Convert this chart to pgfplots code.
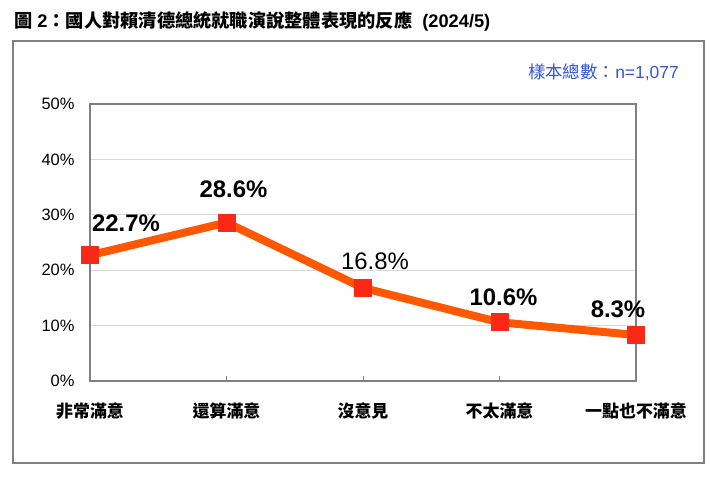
\documentclass[border=0pt]{standalone}
\usepackage{pgfplots}
\pgfplotsset{compat=1.18}
\usepackage{fontspec}
\setmainfont{Liberation Sans}
\newfontfamily\cjk{Noto Sans CJK TC}
\definecolor{lineor}{RGB}{255,88,0}
\definecolor{markr}{RGB}{250,40,20}
\definecolor{blu}{RGB}{51,85,221}
\definecolor{gridg}{RGB}{217,217,217}
\definecolor{axg}{RGB}{128,128,128}
\begin{document}
\begin{tikzpicture}[x=1bp,y=1bp]
\useasboundingbox (0,0) rectangle (728,477);
\draw[axg, line width=1.5bp] (13,14) rectangle (704,436);
\node[anchor=west, inner sep=0] at (14,456) {\fontsize{18.3}{21}\selectfont\bfseries{\cjk 圖} 2{\cjk ：國人對賴清德總統就職演說整體表現的反應}\ \ (2024/5)};
\node[anchor=east, inner sep=0, text=blu] at (679,405) {\fontsize{17.5}{20}\selectfont{\cjk 樣本總數：}n=1,077};
\begin{axis}[
  at={(90bp,96bp)}, anchor=south west,
  scale only axis, width=546bp, height=277bp,
  xmin=0, xmax=4, ymin=0, ymax=50,
  clip=false,
  axis line style={axg, line width=1.3bp},
  xtick={0,1,2,3,4},
  xticklabels={非常滿意,還算滿意,沒意見,不太滿意,一點也不滿意},
  xtick pos=bottom, tick align=inside,
  major tick length=5bp,
  xtick style={axg, line width=0.8bp},
  xticklabel style={font=\cjk\bfseries\fontsize{17}{20}\selectfont, anchor=center, yshift=-30bp},
  ytick={0,10,20,30,40,50},
  yticklabel={\pgfmathprintnumber{\tick}\%},
  ytick style={draw=none},
  yticklabel style={font=\fontsize{16.5}{19}\selectfont, xshift=-12bp},
  /pgf/number format/assume math mode=true,
  ymajorgrids, grid style={gridg, line width=1bp},
]
\addplot[lineor, line width=8bp, line join=round, mark=square*, mark size=8.5bp,
  mark options={solid, color=markr, fill=markr, line width=0.6bp, rounded corners=3.5bp}]
  coordinates {(0,22.7)(1,28.6)(2,16.8)(3,10.6)(4,8.3)};
\node[font=\bfseries\fontsize{24}{28}\selectfont] at (axis cs:0,22.7) [xshift=36bp, yshift=32bp] {22.7\%};
\node[font=\bfseries\fontsize{24}{28}\selectfont] at (axis cs:1,28.6) [xshift=7bp, yshift=33bp] {28.6\%};
\node[font=\fontsize{24}{28}\selectfont] at (axis cs:2,16.8) [xshift=12bp, yshift=27bp] {16.8\%};
\node[font=\bfseries\fontsize{24}{28}\selectfont] at (axis cs:3,10.6) [xshift=4bp, yshift=25bp] {10.6\%};
\node[font=\bfseries\fontsize{24}{28}\selectfont] at (axis cs:4,8.3) [xshift=-18bp, yshift=26bp] {8.3\%};
\end{axis}
\end{tikzpicture}
\end{document}
